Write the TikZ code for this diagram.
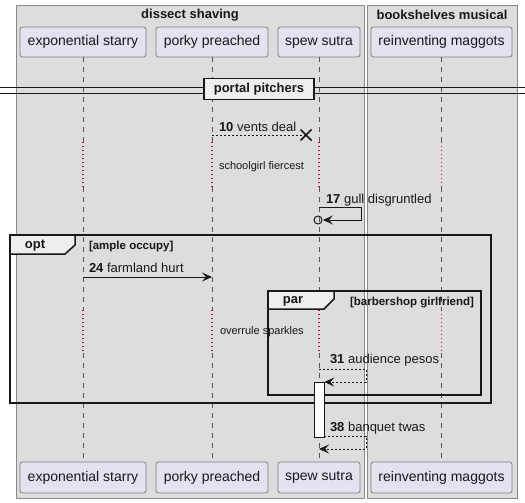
\documentclass[tikz,border=0pt]{standalone}
\usepackage{fontspec}
\setmainfont{Liberation Sans}
\usetikzlibrary{arrows.meta,calc}
\definecolor{grpfill}{HTML}{DDDDDD}
\definecolor{grpline}{HTML}{8A8A8A}
\definecolor{partfill}{HTML}{E2E2F0}
\definecolor{partline}{HTML}{7F7F7F}
\definecolor{lifecol}{HTML}{555555}
\definecolor{delayred}{HTML}{C8003C}
\definecolor{tabfill}{HTML}{EEEEEE}
\definecolor{ink}{HTML}{181818}
\begin{document}
\begin{tikzpicture}[x=1pt,y=-1pt,
  every node/.style={inner sep=0pt, outer sep=0pt, text=ink},
  part/.style={draw=partline, fill=partfill, rounded corners=2.5pt, minimum height=30pt, line width=0.8pt, font=\fontsize{14}{16}\selectfont},
  grp/.style={draw=grpline, fill=grpfill, line width=0.8pt},
  grptitle/.style={font=\bfseries\fontsize{13}{15}\selectfont},
  lifel/.style={draw=lifecol, dash pattern=on 5pt off 5pt, line width=0.8pt},
  delayl/.style={draw=delayred, dash pattern=on 1.2pt off 2.8pt, line width=1.1pt},
  msg/.style={draw=ink, line width=0.8pt},
  msgdash/.style={msg, dash pattern=on 2pt off 2pt},
  tipend/.style={-{Stealth[length=10pt,width=9pt,inset=4pt]}},
  framebox/.style={draw=ink, line width=1.5pt},
  tabbox/.style={draw=ink, fill=tabfill, line width=1.5pt},
  lbl/.style={anchor=base west, font=\fontsize{13}{15}\selectfont},
  smalllbl/.style={anchor=base west, font=\fontsize{11}{13}\selectfont},
  guard/.style={font=\bfseries\fontsize{11.5}{13}\selectfont},
  tabtext/.style={font=\bfseries\fontsize{13}{15}\selectfont}]
\useasboundingbox (0,0) rectangle (525,503);

% groups
\draw[grp] (16,5) rectangle (364,498);
\draw[grp] (367,5) rectangle (517,498);
\node[grptitle] (g1) at (190,15) {dissect shaving};
\node[grptitle] (g2) at (442,15) {bookshelves musical};

% participants
\node[part, minimum width=126pt] (ta) at (83,42) {exponential starry};
\node[part, minimum width=112pt] (tb) at (212,42) {porky preached};
\node[part, minimum width=82pt] (tc) at (319,42) {spew sutra};
\node[part, minimum width=141pt] (td) at (441.5,42) {reinventing maggots};
\node[part, minimum width=126pt, minimum height=31pt] (ba) at (83,477.5) {exponential starry};
\node[part, minimum width=112pt, minimum height=31pt] (bb) at (212,477.5) {porky preached};
\node[part, minimum width=82pt, minimum height=31pt] (bc) at (319,477.5) {spew sutra};
\node[part, minimum width=141pt, minimum height=31pt] (bd) at (441.5,477.5) {reinventing maggots};

% delay boundaries
\coordinate (d1s) at (0,142);
\coordinate (d1e) at (0,187);
\coordinate (d2s) at (0,310);
\coordinate (d2e) at (0,353);

% lifelines
\foreach \p in {a,b,c,d}{
  \draw[lifel] (t\p.south) -- (t\p.south |- d1s);
  \draw[delayl] (t\p.south |- d1s) -- (t\p.south |- d1e);
  \draw[lifel] (t\p.south |- d1e) -- (t\p.south |- d2s);
  \draw[delayl] (t\p.south |- d2s) -- (t\p.south |- d2e);
  \draw[lifel] (t\p.south |- d2e) -- (b\p.north);
}

% divider
\coordinate (dvl1) at (0,88);
\coordinate (dvr1) at (525,88);
\coordinate (dvl2) at (0,94);
\coordinate (dvr2) at (525,94);
\draw[ink, line width=1pt] (dvl1) -- (dvr1);
\draw[ink, line width=1pt] (dvl2) -- (dvr2);
\node[draw=ink, fill=tabfill, line width=1.5pt, minimum width=110pt, minimum height=21pt, tabtext] (div) at (259,89) {portal pitchers};

% message 10 (destroy)
\coordinate (x10) at (306,135);
\draw[msgdash] (tb.south |- x10) -- (x10);
\draw[ink, line width=1.7pt] ($(x10)+(-5.5,-5.5)$) -- ($(x10)+(5.5,5.5)$);
\draw[ink, line width=1.7pt] ($(x10)+(-5.5,5.5)$) -- ($(x10)+(5.5,-5.5)$);
\node[lbl] (l10) at (219,131) {\textbf{10} vents deal};

% delay 1
\node[smalllbl] (dt1) at (219,169) {schoolgirl fiercest};

% message 17
\coordinate (c17) at (318,220);
\draw[msg, tipend] (tc.south |- 0,207) -| (361,220) -- (323,220);
\draw[ink, line width=1pt] (c17) circle (4pt);
\node[lbl] (l17) at (326,203) {\textbf{17} gull disgruntled};

% opt frame
\draw[framebox] (10,235) rectangle (491,403);
\draw[tabbox] (10,235) -- (75,235) -- (75,245) -- (65,254) -- (10,254) -- cycle;
\node[tabtext] (optt) at (35,245.5) {opt};
\node[guard, anchor=base west] (optg) at (89,249) {[ample occupy]};

% message 24
\draw[msg, tipend] (ta.south |- 0,277) -- (tb.south |- 0,277);
\node[lbl] (l24) at (89,272) {\textbf{24} farmland hurt};

% par frame
\draw[framebox] (268,291) rectangle (481,395);
\draw[tabbox] (268,291) -- (334,291) -- (334,299) -- (324,309) -- (268,309) -- cycle;
\node[tabtext] (part) at (293,301.5) {par};
\node[guard, anchor=base east] (parg) at (474,305) {[barbershop girlfriend]};

% delay 2
\node[smalllbl] (dt2) at (220,334) {overrule sparkles};

% message 31
\draw[msgdash, tipend] (tc.south |- 0,369) -| (366,382) -- (324.3,382);
\node[lbl] (l31) at (330,363) {\textbf{31} audience pesos};

% activation
\node[draw=ink, fill=white, line width=0.8pt, minimum width=10pt, minimum height=55pt, anchor=north] (act) at (319.3,382) {};

% message 38
\draw[msgdash, tipend] (act.east |- 0,436) -| (366,449) -- (tc.south |- 0,449);
\node[lbl] (l38) at (330,431) {\textbf{38} banquet twas};
\end{tikzpicture}
\end{document}
